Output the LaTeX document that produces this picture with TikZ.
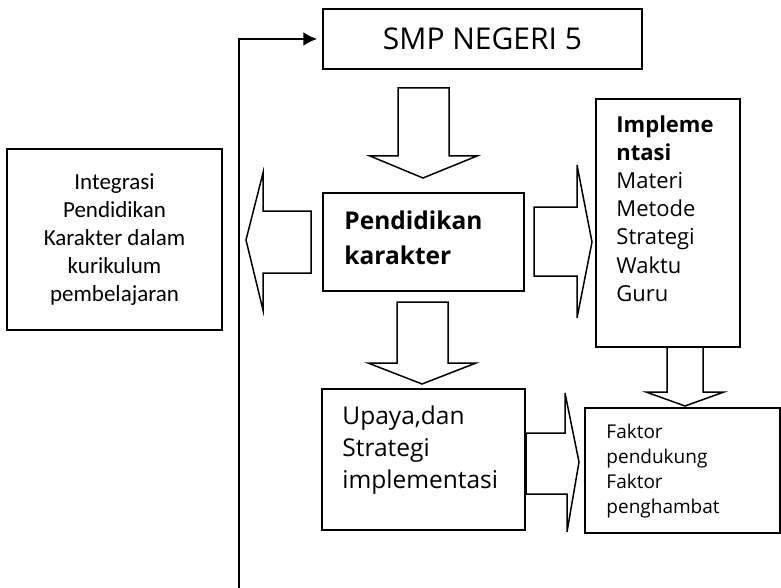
\documentclass[tikz,border=0pt]{standalone}
\usepackage{fontspec}
\setmainfont{Open Sans}
\newfontfamily\carlito{Carlito}
\usetikzlibrary{calc,arrows.meta}

\begin{document}
\begin{tikzpicture}[x=1pt, y=-1pt,
	box/.style={draw, line width=1.5pt, rectangle, inner sep=0pt},
	lbl/.style={inner sep=0pt, align=left, anchor=north west},
	fat/.style={draw, line width=1.5pt, line join=miter, fill=white}]
	\useasboundingbox (0,0) rectangle (781,588);

	\node[box, minimum width=319, minimum height=60, font=\fontsize{30}{36}\selectfont] (smp) at (482.5,39) {SMP NEGERI 5};
	\node[box, minimum width=215, minimum height=181, align=center, font=\carlito\fontsize{23}{28}\selectfont] (integ) at (114.5,239.5) {Integrasi\\Pendidikan\\Karakter dalam\\kurikulum\\pembelajaran};
	\node[box, minimum width=201, minimum height=98] (pend) at (423.5,242) {};
	\node[box, minimum width=144, minimum height=248] (impl) at (668,223) {};
	\node[box, minimum width=203, minimum height=141] (upaya) at (423.5,459.5) {};
	\node[box, minimum width=195, minimum height=125] (faktor) at (682.5,470.5) {};

	\node[lbl, font=\bfseries\fontsize{24.5}{35}\selectfont] (pendtext) at ([shift={(22,18)}]pend.north west) {Pendidikan\\karakter};
	\node[lbl, font=\fontsize{22}{28.2}\selectfont] (impltext) at ([shift={(21,17)}]impl.north west) {\textbf{Impleme}\\\textbf{ntasi}\\Materi\\Metode\\Strategi\\Waktu\\Guru};
	\node[lbl, font=\fontsize{24.5}{32}\selectfont] (upayatext) at ([shift={(21,17)}]upaya.north west) {Upaya,dan\\Strategi\\implementasi};
	\node[lbl, font=\fontsize{19}{25}\selectfont] (faktortext) at ([shift={(22,17)}]faktor.north west) {Faktor\\pendukung\\Faktor\\penghambat};

	% block arrows
	\draw[fat] (398,88) -- (449,88) -- (449,156) -- (477,156) -- (423,178) -- (370,156) -- (398,156) -- cycle;
	\draw[fat] (311,211) -- (311,273) -- (263,273) -- (263,310) -- (246,240) -- (263,173) -- (263,211) -- cycle;
	\draw[fat] (534,207) -- (577,207) -- (577,165) -- (592,242) -- (577,318) -- (577,276) -- (534,276) -- cycle;
	\draw[fat] (397,302) -- (448,302) -- (448,363) -- (476,363) -- (422,384) -- (368,363) -- (397,363) -- cycle;
	\draw[fat] (667,347) -- (703,347) -- (703,392) -- (724,392) -- (685,406) -- (646,392) -- (667,392) -- cycle;
	\draw[fat] (526,433) -- (565,433) -- (565,393) -- (579,462) -- (567,532) -- (567,494) -- (526,494) -- cycle;

	\coordinate (foot) at (239,588);
	\draw[line width=2.5pt, -{Latex[length=14pt,width=14pt]}, shorten >=5pt] (foot) |- (smp.west);

\end{tikzpicture}
\end{document}
